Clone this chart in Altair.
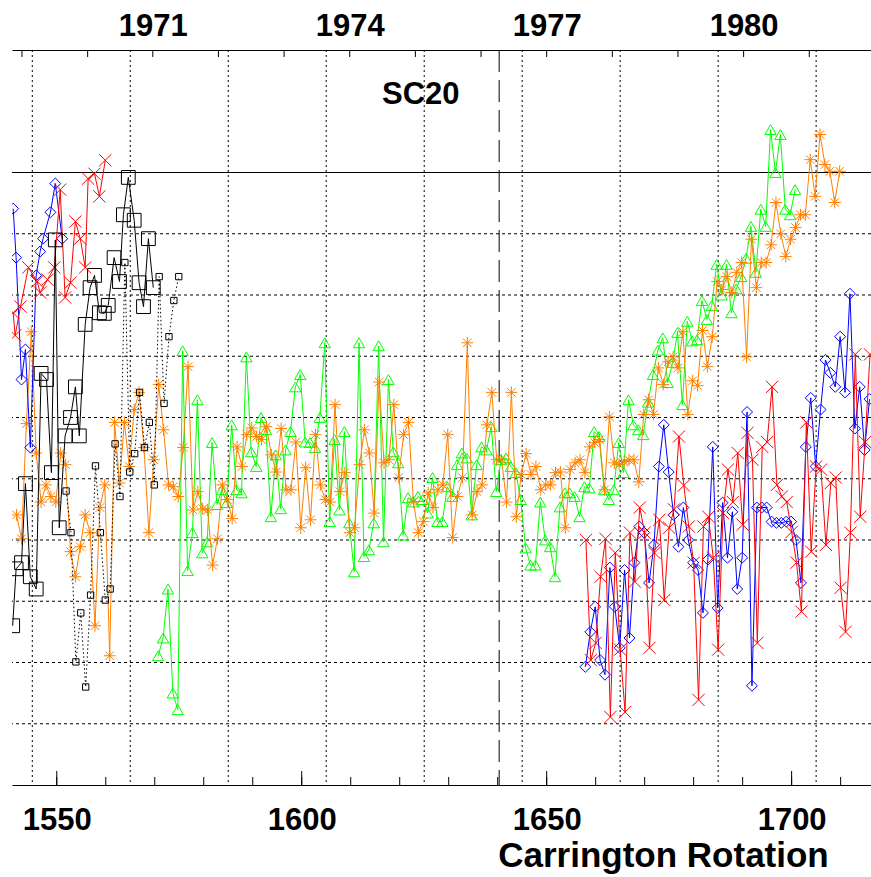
import altair as alt
import pandas as pd

# ---------------- axes / reference values ----------------
X_DOMAIN = [1540.86, 1716.2]
Y_DOMAIN = [0, 12]
bottom_label_cr = [1550, 1600, 1650, 1700]
minor_tick_cr = [1550, 1560, 1570, 1580, 1590, 1600, 1610, 1620, 1630, 1640,
                 1650, 1660, 1670, 1680, 1690, 1700, 1710]
major_tick_cr = [1550, 1600, 1650, 1700]
year_tick_cr = [1542.9, 1556.3, 1569.6, 1583.0, 1596.4, 1609.8, 1623.2,
                1636.6, 1650.0, 1663.4, 1676.8, 1690.2, 1703.6]
year_label_text = ["1971", "1974", "1977", "1980"]
year_label_cr = [1569.6, 1609.8, 1650.0, 1690.2]
grid_x_cr = [1545, 1565, 1585, 1605, 1625, 1645, 1665, 1685, 1705]
grid_y_v = [1, 2, 3, 4, 5, 6, 7, 8, 9]
solid_y_v = [10]
sc20_line_cr = [1640.3]
sc20_text = ["SC20"]
sc20_text_cr = [1624.3]
sc20_text_v = [11.27]

# ---------------- series ----------------
black_big_cr = [1541.0, 1541.7, 1542.8, 1543.6, 1544.6, 1545.8, 1546.8, 1547.9, 1548.9, 1549.7,
                1550.5, 1551.7, 1552.8, 1553.8, 1554.6, 1555.8, 1556.8, 1557.7, 1558.7, 1559.7,
                1560.5, 1561.7, 1562.8, 1563.6, 1564.6, 1565.8, 1566.8, 1567.7, 1568.7, 1569.7]
black_big_v = [2.6, 3.53, 3.63, 4.92, 3.40, 3.20, 6.72, 6.62, 5.10, 8.9,
               4.2, 5.7, 6.0, 6.5, 5.7, 7.52, 8.12, 8.32, 7.71, 7.7,
               7.83, 8.61, 8.22, 9.31, 9.92, 9.22, 8.2, 7.81, 8.92, 8.12]

black_small_start = 1551.9
black_small_v = [4.80, 4.12, 2.01, 2.81, 1.60, 3.10, 5.21, 4.12, 3.02, 3.20, 5.57, 4.71,
                 8.53, 5.11, 5.41, 6.41, 5.51, 5.92, 4.90, 8.30, 6.23, 7.32, 7.91, 8.30]

blue_left_cr = [1541.1, 1541.7, 1542.8, 1543.6, 1544.6, 1545.8, 1546.6, 1547.2, 1548.7, 1549.7, 1551.1]
blue_left_v = [9.41, 8.61, 6.62, 7.11, 5.51, 8.32, 8.71, 8.92, 9.35, 9.82, 8.92]

red_left_cr = [1541.1, 1541.5, 1542.6, 1544.2, 1546.0, 1546.6, 1548.1, 1549.5, 1550.7,
               1551.7, 1552.8, 1553.8, 1554.8, 1555.8, 1556.4, 1557.7, 1558.7, 1559.9]
red_left_v = [7.71, 7.34, 7.81, 8.45, 8.22, 8.04, 8.25, 8.45, 9.72,
              7.96, 8.2, 9.2, 8.92, 8.45, 9.9, 9.98, 9.61, 10.2]

orange_start = 1541.8
orange_v = [
    4.41, 4.02, 5.90, 7.40, 5.42, 4.62, 4.90, 4.71, 4.62, 5.42, 5.23, 3.81, 3.40, 3.89, 4.41,
    4.12, 2.60, 4.53, 4.90, 2.11, 5.92, 4.93, 5.92, 5.20, 6.13, 6.41, 5.51, 4.12, 5.31, 6.54,
    5.80, 4.90, 4.87, 4.71, 5.51, 6.83, 4.49, 4.79, 4.51, 4.49, 3.59,
    4.02, 4.90, 4.66, 4.35, 5.52, 5.20, 5.72, 5.83, 5.69, 5.64, 5.85, 5.39, 5.11, 5.82, 4.82,
    4.82, 5.60, 4.20, 5.18, 4.33, 5.72, 4.90, 4.66, 4.62, 6.21, 4.79, 5.10, 4.12, 4.20, 5.23,
    5.80, 5.42, 4.44, 6.58,
    5.26, 5.31, 6.21, 5.02, 5.72, 5.92, 4.62, 4.12, 4.30, 4.77, 4.53, 4.82, 4.90, 5.72, 4.04,
    4.71, 5.02, 7.22, 4.41, 4.79, 4.90, 5.88, 6.41, 5.31, 5.31, 4.62, 6.41, 4.38, 5.07, 5.41,
    5.07, 5.20, 4.82, 4.90, 4.90, 5.10, 5.11, 4.20, 5.15, 5.26, 5.31, 5.10, 5.52, 5.59, 5.64,
    4.82, 6.01,
    5.26, 5.23, 5.28, 5.31, 5.31, 4.95, 6.05, 6.29, 6.05, 6.81, 6.54, 6.91, 6.99, 6.81, 7.40,
    6.05, 6.60, 6.52, 7.42, 6.83, 7.32, 8.22, 8.09, 8.30, 8.04, 8.37, 8.53, 6.99, 8.91, 8.12,
    8.53, 8.53, 8.82, 9.51, 9.00, 8.63, 8.91, 9.10, 9.31, 9.31, 10.21, 9.61, 10.62, 10.13, 10.02,
    9.51, 10.02]

green_start = 1570.7
green_v = [
    2.11, 2.40, 3.20, 1.50, 1.23, 7.09, 3.50, 4.12, 6.29, 3.79, 3.97, 5.59, 4.58, 4.82, 4.61,
    5.88, 4.82, 4.77, 6.99, 5.44, 5.20, 6.00, 5.80, 4.38, 5.39, 4.51, 5.47, 5.77, 6.50, 6.70,
    5.60, 5.59, 5.51, 6.00, 7.22, 4.30, 5.64, 4.49, 5.77, 4.28, 3.48, 7.22, 3.73, 3.84, 4.28,
    7.17, 3.97, 6.62, 5.44, 5.26, 4.08, 4.69, 4.62, 4.71, 4.66, 4.44, 5.02, 4.30, 4.30, 4.87,
    4.71, 5.23, 5.42, 5.34, 4.41, 5.23, 5.52, 5.47, 5.85, 4.79, 5.31, 5.34, 5.20, 5.10, 4.66,
    3.87, 3.59, 3.59, 4.62, 4.00, 3.89, 3.40, 4.54, 4.77, 4.77, 4.71, 4.38, 4.87, 4.85, 5.77,
    5.69, 4.82, 4.66, 4.82, 5.59, 5.10, 6.29, 5.88, 5.80, 5.72, 6.25, 6.70, 7.10, 7.30, 6.57,
    6.90, 7.39, 6.21, 7.57, 7.25, 7.27, 7.91, 7.60, 7.83, 8.50, 8.00, 8.50, 7.71, 8.10, 8.30,
    8.60, 9.12, 8.37, 9.40, 9.12, 10.70, 10.00, 10.62, 9.40, 9.31, 9.72]

red_right_start = 1658.0
red_right_v = [
    4.00, 2.04, 2.32, 3.40, 4.02, 1.11, 3.79, 2.21, 1.19, 4.12, 3.32, 4.53, 4.12, 2.24, 3.79,
    4.33, 3.02, 4.20, 4.50, 5.69, 4.89, 4.22, 3.63, 1.39, 4.22, 4.38, 3.71, 2.21, 4.44, 5.15,
    4.62, 5.42, 4.25, 5.75, 5.31, 2.32, 5.52, 5.60, 6.50, 4.90, 4.71, 4.62, 4.13, 3.63, 2.83,
    5.92, 3.81, 5.20, 5.15, 3.92, 4.93, 5.02, 3.22, 2.50, 4.12, 7.03, 4.38, 5.60, 7.03]

blue_right_start = 1657.9
blue_right_v = [
    1.93, 2.50, 2.91, 2.04, 1.80, 3.55, 2.91, 2.24, 3.51, 2.40, 3.63, 4.22, 4.12, 3.30, 3.92,
    5.20, 5.88, 5.11, 4.41, 3.89, 4.53, 4.00, 3.63, 3.51, 2.81, 3.68, 5.52, 2.89, 4.61, 3.71,
    4.46, 3.20, 3.71, 6.09, 1.62, 4.53, 4.53, 4.53, 4.30, 4.28, 4.28, 4.30, 4.30, 4.00, 3.30,
    5.52, 6.32, 5.20, 6.13, 6.94, 6.73, 6.50, 7.32, 6.41, 8.02, 5.82, 6.50, 5.47, 6.30]

# ---------------- styling ----------------
FONT = "Liberation Sans"
LABEL_SIZE = 31
TITLE_SIZE = 35
SC_SIZE = 31
BLUE = "#0000ff"
RED = "#ff0000"
ORANGE = "#ff8000"
GREEN = "#00ff00"
BLACK = "#000000"
X_SHAPE = "M-1,-1L1,1M-1,1L1,-1"
STAR_SHAPE = "M-1,0L1,0M0,-1L0,1M-0.72,-0.72L0.72,0.72M-0.72,0.72L0.72,-0.72"

xs = alt.Scale(domain=X_DOMAIN, nice=False, zero=False)
ys = alt.Scale(domain=Y_DOMAIN, nice=False, zero=False)


def xenc(field="cr", axis=None):
    return alt.X(f"{field}:Q", scale=xs, axis=axis)


def yenc(field="v"):
    return alt.Y(f"{field}:Q", scale=ys, axis=None)


def seq(start, values):
    return [start + i for i in range(len(values))]


def series(cr, v, color, shape, size, dash=None):
    df = pd.DataFrame({"cr": cr, "v": v})
    line_kw = dict(color=color, strokeWidth=1, clip=True)
    if dash:
        line_kw["strokeDash"] = dash
    line = alt.Chart(df).mark_line(**line_kw).encode(x=xenc(), y=yenc())
    pts = alt.Chart(df).mark_point(shape=shape, size=size, color=color, filled=False,
                                   strokeWidth=1, opacity=1, clip=True).encode(x=xenc(), y=yenc())
    return [line, pts]


bottom_axis = alt.Axis(
    orient="bottom", values=bottom_label_cr, format="d", ticks=False, tickSize=0, grid=False,
    domain=True, domainColor=BLACK, domainWidth=1,
    labelFont=FONT, labelFontSize=LABEL_SIZE, labelFontWeight="bold", labelColor=BLACK,
    labelBaseline="alphabetic", labelPadding=44, labelFlush=False,
    title="Carrington Rotation", titleFont=FONT, titleFontSize=TITLE_SIZE, titleFontWeight="bold",
    titleColor=BLACK, titleX=651, titleY=81, titleAlign="center", titleBaseline="alphabetic",
)

label_expr = ":".join(f"abs(datum.value-{c})<0.01?'{t}'" for c, t in zip(year_label_cr, year_label_text)) + ":''"
top_axis = alt.Axis(
    orient="top", values=year_label_cr, labelExpr=label_expr, ticks=False, tickSize=0, grid=False,
    domain=True, domainColor=BLACK, domainWidth=1,
    labelFont=FONT, labelFontSize=LABEL_SIZE, labelFontWeight="bold", labelColor=BLACK,
    labelBaseline="alphabetic", labelPadding=15, labelFlush=False, title=None,
)

layers = []

# grid
layers.append(alt.Chart(pd.DataFrame({"cr": grid_x_cr})).mark_rule(
    color=BLACK, strokeWidth=1, strokeDash=[2, 3]).encode(x=xenc(axis=bottom_axis)))
layers.append(alt.Chart(pd.DataFrame({"v": grid_y_v})).mark_rule(
    color=BLACK, strokeWidth=1, strokeDash=[3, 3]).encode(y=yenc()))
layers.append(alt.Chart(pd.DataFrame({"v": solid_y_v})).mark_rule(
    color=BLACK, strokeWidth=1).encode(y=yenc()))
layers.append(alt.Chart(pd.DataFrame({"cr": sc20_line_cr})).mark_rule(
    color=BLACK, strokeWidth=1, strokeDash=[22, 8]).encode(x=xenc()))

# inward ticks
MINOR_LEN = 8 / 61.2
MAJOR_LEN = 14 / 61.2
TOP_LEN = 7 / 61.2
layers.append(alt.Chart(pd.DataFrame({"cr": minor_tick_cr, "y0": 0.0, "y1": MINOR_LEN})).mark_rule(
    color=BLACK, strokeWidth=1).encode(x=xenc(), y=yenc("y0"), y2="y1:Q"))
layers.append(alt.Chart(pd.DataFrame({"cr": major_tick_cr, "y0": 0.0, "y1": MAJOR_LEN})).mark_rule(
    color=BLACK, strokeWidth=1).encode(x=xenc(), y=yenc("y0"), y2="y1:Q"))
layers.append(alt.Chart(pd.DataFrame({"cr": year_tick_cr, "y0": 12.0, "y1": 12.0 - TOP_LEN})).mark_rule(
    color=BLACK, strokeWidth=1).encode(x=xenc(axis=top_axis), y=yenc("y0"), y2="y1:Q"))

# data series
layers += series(seq(green_start, green_v), green_v, GREEN, "triangle-up", 130)
layers += series(seq(orange_start, orange_v), orange_v, ORANGE, STAR_SHAPE, 140)
layers += series(blue_left_cr, blue_left_v, BLUE, "diamond", 120)
layers += series(seq(blue_right_start, blue_right_v), blue_right_v, BLUE, "diamond", 120)
layers += series(red_left_cr, red_left_v, RED, X_SHAPE, 150)
layers += series(seq(red_right_start, red_right_v), red_right_v, RED, X_SHAPE, 150)
layers += series(black_big_cr, black_big_v, BLACK, "square", 190)
layers += series(seq(black_small_start, black_small_v), black_small_v, BLACK, "square", 40, dash=[1.5, 2.5])

# SC20 label
layers.append(alt.Chart(pd.DataFrame({"cr": sc20_text_cr, "v": sc20_text_v, "t": sc20_text})).mark_text(
    font=FONT, fontSize=SC_SIZE, fontWeight="bold", color=BLACK, align="center", baseline="middle"
).encode(x=xenc(), y=yenc(), text="t:N"))

chart = alt.layer(*layers).resolve_axis(x="independent").properties(
    width=859, height=735,
    padding={"left": 12, "top": 50, "right": 0, "bottom": 92},
    autosize=alt.AutoSizeParams(type="none"),
    background="white",
).configure_view(stroke=None)

chart.save("out.html", embed_options={"renderer": "svg", "actions": False})
